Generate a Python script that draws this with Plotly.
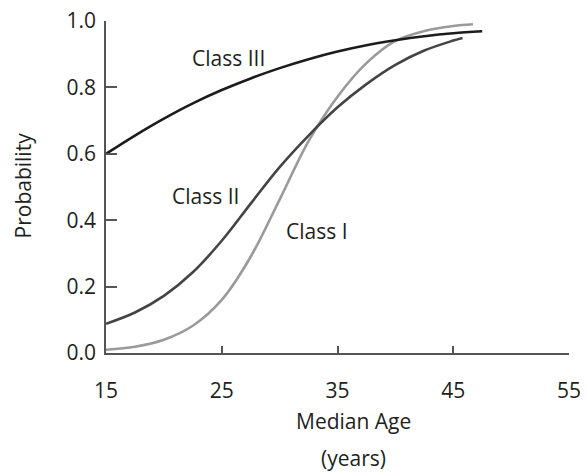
import plotly.graph_objects as go

# Median age (years) and probability of each class
age_c3 = [15, 17.5, 20, 22.5, 25, 27.5, 30, 32.5, 35, 37.5, 40, 42.5, 45, 47.5]
prob_c3 = [0.600, 0.655, 0.706, 0.752, 0.792, 0.827, 0.858, 0.885, 0.908, 0.927, 0.942, 0.954, 0.963, 0.969]

age_c2 = [15, 17.5, 20, 22.5, 25, 27.5, 30, 32.5, 35, 37.5, 40, 42.5, 45, 45.8]
prob_c2 = [0.088, 0.122, 0.172, 0.243, 0.338, 0.450, 0.560, 0.655, 0.740, 0.810, 0.868, 0.911, 0.941, 0.949]

age_c1 = [15, 17.5, 20, 22.5, 25, 27.5, 30, 32.5, 35, 37.5, 40, 42.5, 45, 46.7]
prob_c1 = [0.010, 0.019, 0.040, 0.082, 0.160, 0.290, 0.462, 0.638, 0.772, 0.873, 0.940, 0.970, 0.985, 0.990]

x_ticks = [15, 25, 35, 45, 55]
y_ticks = [0.0, 0.2, 0.4, 0.6, 0.8, 1.0]
y_tick_text = ["0.0", "0.2", "0.4", "0.6", "0.8", "1.0"]

FONT = "Open Sans"
TXT = "#231f20"
AXIS = "#555555"

fig = go.Figure()
series = [
    (age_c1, prob_c1, "#9a9a9a", "Class I"),
    (age_c2, prob_c2, "#444444", "Class II"),
    (age_c3, prob_c3, "#1c1c1c", "Class III"),
]
for xs, ys, col, name in series:
    fig.add_trace(go.Scatter(
        x=xs, y=ys, mode="lines", name=name,
        line=dict(color=col, width=2.6, shape="spline", smoothing=1.0),
        showlegend=False, cliponaxis=False,
    ))

# Curve labels
labels = [("Class III", 25.6, 0.888), ("Class II", 23.6, 0.472), ("Class I", 33.2, 0.368)]
for text, lx, ly in labels:
    fig.add_annotation(x=lx, y=ly, text=text, showarrow=False,
                       font=dict(family=FONT, size=21, color=TXT))

# Axis titles
title_font = dict(family=FONT, size=21, color=TXT)
fig.add_annotation(xref="paper", yref="paper", x=0.535, y=-0.206, text="Median Age",
                   xanchor="center", yanchor="middle", showarrow=False, font=title_font)
fig.add_annotation(xref="paper", yref="paper", x=0.535, y=-0.315, text="(years)",
                   xanchor="center", yanchor="middle", borderpad=0, showarrow=False,
                   font=title_font)
fig.add_annotation(xref="paper", yref="paper", x=-0.179, y=0.505, text="Probability",
                   xanchor="center", yanchor="middle", textangle=-90,
                   showarrow=False, font=title_font)

fig.update_xaxes(
    range=[15, 55], tickvals=x_ticks, ticks="inside", ticklen=7, tickwidth=1.5,
    tickcolor=AXIS, showline=True, linecolor=AXIS, linewidth=1.5,
    showgrid=False, zeroline=False, ticklabelstandoff=18, automargin=False,
    tickfont=dict(family=FONT, size=21, color=TXT),
)
fig.update_yaxes(
    range=[0, 1], tickvals=y_ticks, ticktext=y_tick_text, ticks="inside", ticklen=11,
    tickwidth=1.5, tickcolor=AXIS, showline=True, linecolor=AXIS, linewidth=1.5,
    showgrid=False, zeroline=False, ticklabelstandoff=4, automargin=False,
    tickfont=dict(family=FONT, size=21, color=TXT),
)
fig.update_layout(
    width=586, height=472,
    margin=dict(l=106, r=17, t=21, b=119),
    paper_bgcolor="white", plot_bgcolor="white",
)
fig.write_html("out.html")
